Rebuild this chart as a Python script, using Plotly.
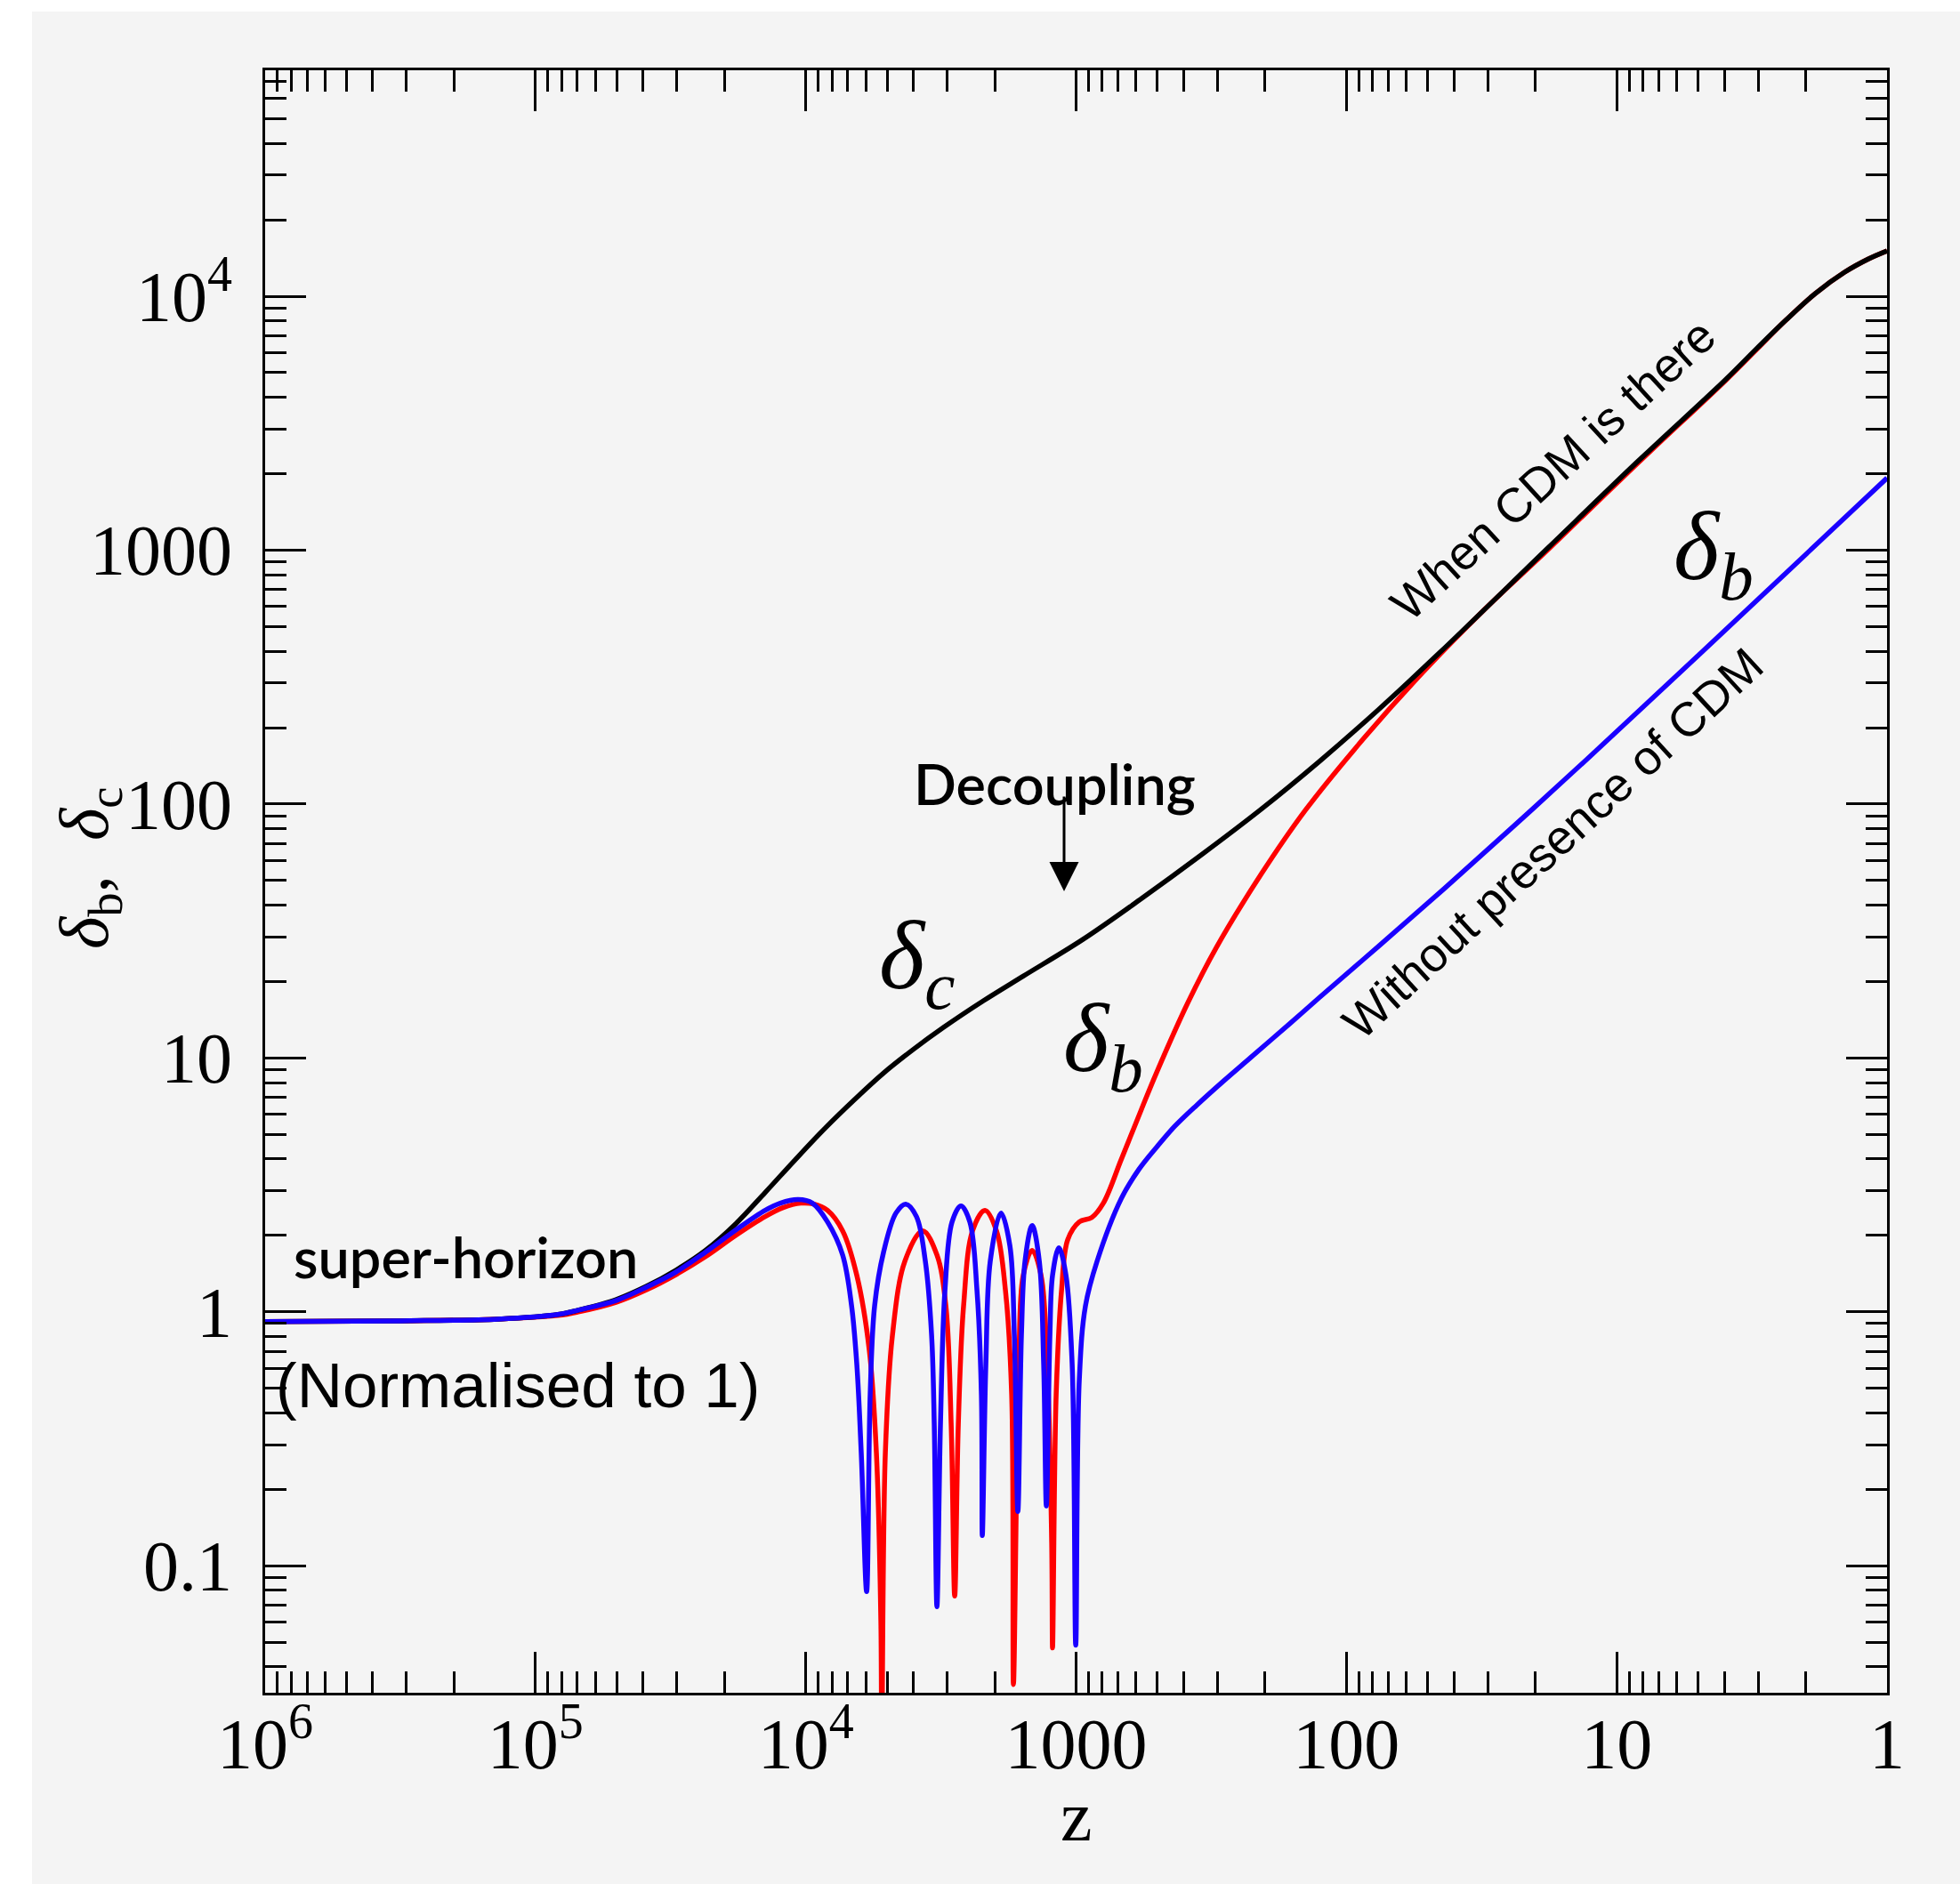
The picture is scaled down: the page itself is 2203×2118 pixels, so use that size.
import plotly.graph_objects as go

# ---------------- data ----------------
# delta_c : CDM perturbation (black)
black_z = [1e6, 3.16e5, 1.373e5, 8.26e4, 6.94e4, 5.01e4, 3.87e4, 3.015e4, 2.35e4,
           1.814e4, 1.413e4, 1.100e4, 8500, 6620, 5156, 3986, 3103, 2207, 1569,
           944, 572, 344, 207, 125.7, 75.6, 45.5, 17.9, 8.40, 3.94, 3.02, 2.37,
           1.845, 1.436, 1.17, 1.0]
black_d = [0.915, 0.922, 0.937, 0.976, 1.016, 1.12, 1.264, 1.462, 1.746,
           2.225, 2.953, 3.95, 5.28, 6.84, 8.72, 10.84, 13.16, 16.77, 21.0,
           29.3, 42.5, 63.1, 95.3, 147.4, 237, 392, 1024, 2225, 4718, 6259, 8043,
           10245, 12436, 14040, 15100]

# delta_b with CDM (red)
red_z = [1e6, 3.16e5, 1.373e5, 8.26e4, 6.94e4, 5.01e4, 3.87e4, 3.015e4, 2.35e4,
         1.814e4, 1.413e4, 1.214e4, 1.043e4, 9313, 8310, 7307, 6474, 5821, 5478,
         5275, 5235, 5078, 4779, 4298, 3695, 3272, 3033, 2898, 2812, 2727, 2607,
         2416, 2174, 1970, 1825, 1731, 1705, 1629, 1569, 1454, 1348, 1279, 1231,
         1222, 1185, 1132, 1074, 973, 875, 793, 681, 572, 503, 386, 303, 207,
         141.9, 86.1, 51.8, 30.5, 17.9, 8.40, 3.94, 3.02, 2.37, 1.845, 1.436,
         1.17, 1.0]
red_d = [0.915, 0.922, 0.937, 0.968, 1.0, 1.093, 1.224, 1.404, 1.650,
         2.003, 2.374, 2.573, 2.680, 2.658, 2.512, 2.086, 1.393, 0.707, 0.277,
         0.0611, 0.02, 0.277, 0.810, 1.585, 2.086, 1.677, 1.058, 0.361, 0.0760, 0.361, 1.058,
         2.086, 2.512, 2.086, 1.214, 0.472, 0.0341, 0.621, 1.393, 1.747, 1.393, 0.621, 0.1234,
         0.0475, 0.472, 1.214, 1.924, 2.262, 2.354, 2.680, 3.98, 6.31, 8.79, 16.5, 27.2, 52.8,
         94.5, 181.8, 333, 591, 1008, 2190, 4680, 6209, 8043, 10245, 12436,
         14040, 15100]

# delta_b without CDM (blue)
blue_z = [1e6, 3.16e5, 1.373e5, 8.26e4, 6.94e4, 5.01e4, 3.87e4, 3.015e4, 2.35e4,
          1.814e4, 1.413e4, 1.242e4, 1.067e4, 9450, 8310, 7307, 6770, 6474, 6233,
          5955, 5777, 5562, 5156, 4636, 4266, 3896, 3612, 3424, 3347, 3272, 3175,
          3056, 2876, 2666, 2472, 2326, 2240, 2223, 2157, 2077, 1896, 1757, 1692,
          1642, 1593, 1545, 1454, 1368, 1318, 1288, 1250, 1222, 1158, 1090, 1034,
          1003, 973, 923, 836, 681, 585.8, 503, 432.5, 357.8, 285, 227, 161.4,
          125.7, 75.6, 43.5, 24.28, 13.04, 4.83, 2.37, 1.0]
blue_d = [0.915, 0.922, 0.937, 0.976, 1.016, 1.111, 1.254, 1.438, 1.718,
          2.102, 2.512, 2.680, 2.768, 2.680, 2.262, 1.677, 1.058, 0.621, 0.277,
          0.0791, 0.472, 1.058, 1.718, 2.452, 2.658, 2.374, 1.585, 0.810, 0.361, 0.0690, 0.361,
          1.214, 2.262, 2.615, 2.262, 1.214, 0.472, 0.1316, 0.621, 1.585, 2.452, 1.818, 0.810,
          0.1637, 0.810, 1.585, 2.190, 1.585, 0.621, 0.172, 0.810, 1.393, 1.789, 1.393, 0.621,
          0.0487, 0.541, 1.058, 1.585, 2.790, 3.64, 4.46, 5.37, 6.52, 8.11, 10.0, 13.70,
          17.32, 27.7, 46.4, 81.1, 148.5, 398, 811, 1924]

x_tickvals = [1e6, 1e5, 1e4, 1000, 100, 10, 1]
x_ticktext = ["10<sup>6</sup>", "10<sup>5</sup>", "10<sup>4</sup>", "1000", "100", "10", "1"]
y_tickvals = [0.1, 1, 10, 100, 1000, 1e4]
y_ticktext = ["0.1", "1", "10", "100", "1000", "10<sup>4</sup>"]

# ---------------- figure ----------------
W, H = 2203, 2118
L, R, T, B = 298, 82, 79, 215
PW, PH = W - L - R, H - T - B
GRAY = "#f4f4f4"


def px(X):
    return (X - L) / PW


def py(Y):
    return (H - B - Y) / PH


fig = go.Figure()
LW = 5.5
fig.add_trace(go.Scatter(x=red_z, y=red_d, mode="lines",
                         line=dict(color="#ff0000", width=LW, shape="spline", smoothing=1.0),
                         showlegend=False))
fig.add_trace(go.Scatter(x=black_z, y=black_d, mode="lines",
                         line=dict(color="#000000", width=LW, shape="spline", smoothing=1.0),
                         showlegend=False))
fig.add_trace(go.Scatter(x=blue_z, y=blue_d, mode="lines",
                         line=dict(color="#1a00ff", width=LW, shape="spline", smoothing=1.0),
                         showlegend=False))

minor_x = [m * 10 ** e for e in range(0, 6) for m in range(2, 10)]
minor_y = [m * 10 ** e for e in range(-2, 5) for m in range(2, 10)]

tickfont = dict(family="Liberation Serif", size=80, color="black")

fig.update_xaxes(type="log", range=[6, 0], showgrid=False, zeroline=False,
                 showline=True, linewidth=3, linecolor="black", mirror="allticks",
                 ticks="inside", ticklen=46, tickwidth=2.5, tickcolor="black",
                 tickvals=x_tickvals, ticktext=x_ticktext, tickfont=tickfont,
                 ticklabelstandoff=-14,
                 minor=dict(tickvals=minor_x, ticks="inside", ticklen=24,
                            tickwidth=2.5, tickcolor="black", showgrid=False))
fig.update_yaxes(type="log", range=[-1.5, 4.89], showgrid=False, zeroline=False,
                 showline=True, linewidth=3, linecolor="black", mirror="allticks",
                 ticks="inside", ticklen=46, tickwidth=2.5, tickcolor="black",
                 tickvals=y_tickvals, ticktext=y_ticktext, tickfont=tickfont,
                 ticklabelstandoff=18,
                 minor=dict(tickvals=minor_y, ticks="inside", ticklen=24,
                            tickwidth=2.5, tickcolor="black", showgrid=False))

# grey panel behind everything (page is white on the far left / top strip)
fig.add_shape(type="rect", xref="paper", yref="paper",
              x0=px(36), x1=px(W + 5), y0=py(H + 5), y1=py(13),
              fillcolor=GRAY, line=dict(width=0), layer="below")

ann = []
sans = "Liberation Sans"
gill = "Lato"
serif = "Liberation Serif"

ann.append(dict(x=px(328), y=py(1412), text="super-horizon", xanchor="left", yanchor="middle",
                font=dict(family=gill, size=63, color="black", weight=600)))
ann.append(dict(x=px(308), y=py(1557), text="(Normalised to 1)", xanchor="left", yanchor="middle",
                font=dict(family=sans, size=71, color="black")))
ann.append(dict(x=px(1185), y=py(881), text="Decoupling", xanchor="center", yanchor="middle",
                font=dict(family=gill, size=63, color="black", weight=600)))
ann.append(dict(x=px(1196), y=py(1002), text="", showarrow=True, ax=0, ay=-108,
                arrowhead=2, arrowsize=2.2, arrowwidth=3, arrowcolor="black", standoff=0))
ann.append(dict(x=px(1030), y=py(1082), text="<i>δ<sub>c</sub></i>", xanchor="center", yanchor="middle",
                font=dict(family=serif, size=110, color="black")))
ann.append(dict(x=px(1240), y=py(1175), text="<i>δ<sub>b</sub></i>", xanchor="center", yanchor="middle",
                font=dict(family=serif, size=110, color="black")))
ann.append(dict(x=px(1926), y=py(622), text="<i>δ<sub>b</sub></i>", xanchor="center", yanchor="middle",
                font=dict(family=serif, size=110, color="black")))
ann.append(dict(x=px(1745), y=py(528), text="When CDM is there", textangle=-42.5,
                xanchor="center", yanchor="middle",
                font=dict(family=sans, size=54, color="black")))
ann.append(dict(x=px(1745), y=py(948), text="Without presence of CDM", textangle=-42.6,
                xanchor="center", yanchor="middle",
                font=dict(family=sans, size=54, color="black")))
# axis titles
ann.append(dict(x=px(100), y=py(976), text="<i>δ</i><sub>b</sub>,  <i>δ</i><sub>c</sub>", textangle=-90,
                xanchor="center", yanchor="middle",
                font=dict(family=serif, size=78, color="black")))
ann.append(dict(x=px(1210), y=py(2042), text="z", xanchor="center", yanchor="middle",
                font=dict(family=serif, size=80, color="black")))

for a in ann:
    a.setdefault("showarrow", False)
    a["xref"] = "paper"
    a["yref"] = "paper"
fig.update_layout(annotations=ann)

fig.update_layout(width=W, height=H, margin=dict(l=L, r=R, t=T, b=B, pad=0),
                  paper_bgcolor="white", plot_bgcolor=GRAY, showlegend=False)

fig.write_html("out.html")
